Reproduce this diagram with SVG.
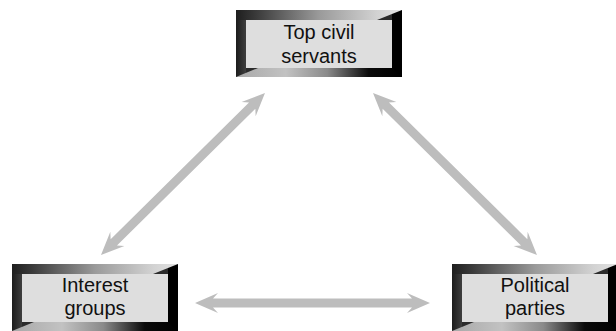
<svg xmlns="http://www.w3.org/2000/svg" width="616" height="331" viewBox="0 0 616 331">
  <defs>
    <linearGradient id="leftBand" x1="0" y1="0" x2="1" y2="0">
      <stop offset="0" stop-color="#1c1c1c"/>
      <stop offset="1" stop-color="#3e3e3e"/>
    </linearGradient>
    <linearGradient id="topBand" x1="0" y1="0" x2="1" y2="0">
      <stop offset="0" stop-color="#1e1e1e"/>
      <stop offset="0.12" stop-color="#3a3a3a"/>
      <stop offset="0.5" stop-color="#9a9a9a"/>
      <stop offset="0.85" stop-color="#d2d2d2"/>
      <stop offset="1" stop-color="#e2e2e2"/>
    </linearGradient>
    <linearGradient id="bottomBand" x1="0" y1="0" x2="1" y2="0">
      <stop offset="0" stop-color="#a8a8a8"/>
      <stop offset="0.3" stop-color="#c2c2c2"/>
      <stop offset="0.55" stop-color="#8a8a8a"/>
      <stop offset="0.8" stop-color="#0a0a0a"/>
      <stop offset="1" stop-color="#000000"/>
    </linearGradient>
    <!-- bevelled frame shared by all three boxes, 166 x 67 -->
    <g id="frame">
      <rect x="0" y="0" width="166" height="67" fill="#2b2b2b"/>
      <rect x="0" y="0" width="10" height="67" fill="url(#leftBand)"/>
      <rect x="156" y="0" width="10" height="67" fill="#000"/>
      <polygon points="0,0 166,0 141,10 0,10" fill="url(#topBand)"/>
      <polygon points="0,67 22,58 156,58 166,67" fill="url(#bottomBand)"/>
      <rect x="10" y="10" width="146" height="48" fill="#dedede"/>
    </g>
  </defs>
  <style>
    .label { font-family: "Liberation Sans", Arial, sans-serif; font-size: 20px; fill: #111; text-anchor: middle; }
    .arrow { fill: #bdbdbd; }
  </style>

  <g id="connectors">
    <!-- double-headed arrow, local axis from 0 to length along x -->
    <path class="arrow" transform="translate(195,303)"
      d="M0,0 L23,-10 L18,-4.5 L217,-4.5 L212,-10 L235,0 L212,10 L217,4.5 L18,4.5 L23,10 Z"/>
    <path class="arrow" transform="translate(101,255) rotate(-44.65)"
      d="M0,0 L23,-10 L18,-4.5 L212.5,-4.5 L207.5,-10 L230.5,0 L207.5,10 L212.5,4.5 L18,4.5 L23,10 Z"/>
    <path class="arrow" transform="translate(373,93) rotate(44.65)"
      d="M0,0 L23,-10 L18,-4.5 L212.5,-4.5 L207.5,-10 L230.5,0 L207.5,10 L212.5,4.5 L18,4.5 L23,10 Z"/>
  </g>

  <g id="top-civil-servants" transform="translate(236,10)">
    <use href="#frame"/>
    <text class="label" x="83" y="29">Top civil</text>
    <text class="label" x="83" y="53">servants</text>
  </g>

  <g id="interest-groups" transform="translate(12,264)">
    <use href="#frame"/>
    <text class="label" x="83" y="28">Interest</text>
    <text class="label" x="83" y="51">groups</text>
  </g>

  <g id="political-parties" transform="translate(452,264)">
    <use href="#frame"/>
    <text class="label" x="83" y="28">Political</text>
    <text class="label" x="83" y="51">parties</text>
  </g>
</svg>
